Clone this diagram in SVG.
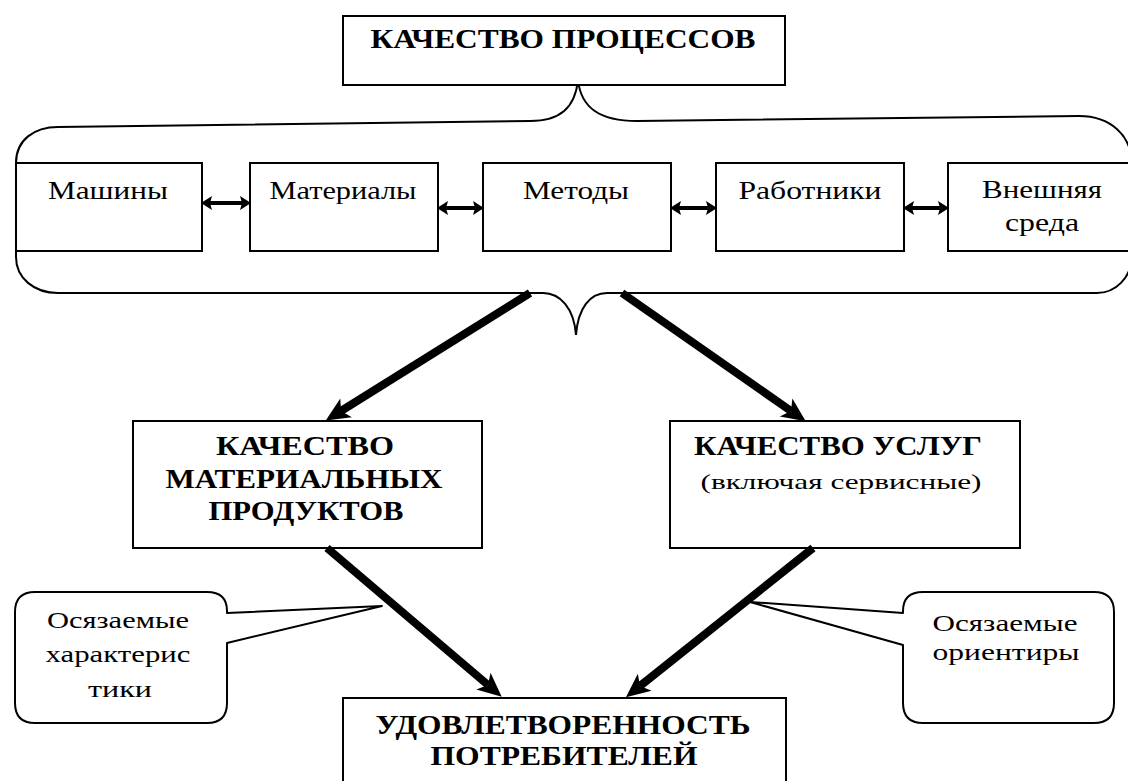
<svg xmlns="http://www.w3.org/2000/svg" width="1128" height="781" viewBox="0 0 1128 781">
  <style>
    .box { fill: #fff; stroke: #000; stroke-width: 2; }
    .outline { fill: none; stroke: #000; stroke-width: 2; }
    .callout { fill: #fff; stroke: #000; stroke-width: 2; stroke-linejoin: round; }
    .head { font-family: "Liberation Serif", "Times New Roman", serif; font-weight: bold; text-anchor: middle; fill: #000; }
    .lbl { font-family: "Liberation Serif", "Times New Roman", serif; text-anchor: middle; fill: #000; }
    .link { stroke: #000; stroke-width: 4; fill: none; marker-start: url(#dbl); marker-end: url(#dbl); }
    .flow { stroke: #000; stroke-width: 8; fill: none; marker-end: url(#big); }
  </style>
  <defs>
    <marker id="big" markerUnits="userSpaceOnUse" markerWidth="26" markerHeight="22" refX="6" refY="11" orient="auto" overflow="visible">
      <path d="M0,0 L24,11 L0,22 L6,11 Z" fill="#000"/>
    </marker>
    <marker id="dbl" markerUnits="userSpaceOnUse" markerWidth="12" markerHeight="14" refX="2" refY="7" orient="auto-start-reverse" overflow="visible">
      <path d="M0,0 L11,7 L0,14 L2,7 Z" fill="#000"/>
    </marker>
  </defs>

  <!-- bracket enclosing the five factors -->
  <path id="bracket" class="outline" d="M16,163 C16,140 34,127 58,127 L530,121 C560,121 575,108 578,80 C581,108 600,121 637,121 L1079,116 C1110,116 1132,135 1132,165 L1132,255 C1132,278 1115,293 1097,293 L607,293 C590,293 578,308 576,335 C574,308 560,293 543,293 L58,293 C34,293 16,278 16,257 Z"/>

  <g id="processes">
    <rect class="box" x="343" y="16" width="442" height="69"/>
    <text class="head" x="563" y="48" font-size="28" textLength="385" lengthAdjust="spacingAndGlyphs">КАЧЕСТВО ПРОЦЕССОВ</text>
  </g>

  <g id="machines">
    <rect class="box" x="16" y="163" width="186" height="88"/>
    <text class="lbl" x="108" y="199" font-size="26" textLength="120" lengthAdjust="spacingAndGlyphs">Машины</text>
  </g>
  <g id="materials">
    <rect class="box" x="250" y="163" width="188" height="88"/>
    <text class="lbl" x="343" y="199" font-size="26" textLength="147" lengthAdjust="spacingAndGlyphs">Материалы</text>
  </g>
  <g id="methods">
    <rect class="box" x="483" y="163" width="188" height="88"/>
    <text class="lbl" x="576" y="199" font-size="26" textLength="106" lengthAdjust="spacingAndGlyphs">Методы</text>
  </g>
  <g id="workers">
    <rect class="box" x="716" y="163" width="188" height="88"/>
    <text class="lbl" x="810" y="199" font-size="26" textLength="143" lengthAdjust="spacingAndGlyphs">Работники</text>
  </g>
  <g id="environment">
    <rect class="box" x="948" y="163" width="200" height="88"/>
    <text class="lbl" x="1042" y="198" font-size="26" textLength="120" lengthAdjust="spacingAndGlyphs">Внешняя</text>
    <text class="lbl" x="1042" y="231" font-size="26" textLength="74" lengthAdjust="spacingAndGlyphs">среда</text>
  </g>

  <g id="products">
    <rect class="box" x="133" y="421" width="349" height="127"/>
    <text class="head" x="305" y="455" font-size="28" textLength="178" lengthAdjust="spacingAndGlyphs">КАЧЕСТВО</text>
    <text class="head" x="304" y="488" font-size="28" textLength="277" lengthAdjust="spacingAndGlyphs">МАТЕРИАЛЬНЫХ</text>
    <text class="head" x="306" y="520" font-size="28" textLength="195" lengthAdjust="spacingAndGlyphs">ПРОДУКТОВ</text>
  </g>
  <g id="services">
    <rect class="box" x="670" y="421" width="350" height="127"/>
    <text class="head" x="838" y="455" font-size="28" textLength="288" lengthAdjust="spacingAndGlyphs">КАЧЕСТВО УСЛУГ</text>
    <text class="lbl" x="841" y="489" font-size="22" textLength="281" lengthAdjust="spacingAndGlyphs">(включая сервисные)</text>
  </g>

  <g id="satisfaction">
    <rect class="box" x="343" y="698" width="443" height="100"/>
    <text class="head" x="563" y="734" font-size="27" textLength="375" lengthAdjust="spacingAndGlyphs">УДОВЛЕТВОРЕННОСТЬ</text>
    <text class="head" x="564" y="765" font-size="27" textLength="267" lengthAdjust="spacingAndGlyphs">ПОТРЕБИТЕЛЕЙ</text>
  </g>

  <g id="connectors">
    <line class="link" x1="210" y1="203" x2="242" y2="203"/>
    <line class="link" x1="446" y1="208" x2="475" y2="208"/>
    <line class="link" x1="679" y1="208" x2="708" y2="208"/>
    <line class="link" x1="912" y1="208" x2="940" y2="208"/>
    <line class="flow" x1="530" y1="293" x2="341" y2="411"/>
    <line class="flow" x1="622" y1="293" x2="791" y2="411"/>
    <line class="flow" x1="327" y1="548" x2="488" y2="685"/>
    <line class="flow" x1="813" y1="548" x2="640" y2="686"/>
  </g>

  <g id="note-tangible-characteristics">
    <path class="callout" d="M35,592 L207,592 Q227,592 227,611 L227,613 L382,606 L227,643 L227,703 Q227,723 207,723 L35,723 Q15,723 15,703 L15,612 Q15,592 35,592 Z"/>
    <text class="lbl" x="118" y="628" font-size="23" textLength="142" lengthAdjust="spacingAndGlyphs">Осязаемые</text>
    <text class="lbl" x="118" y="662" font-size="23" textLength="145" lengthAdjust="spacingAndGlyphs">характерис</text>
    <text class="lbl" x="120" y="697" font-size="23" textLength="64" lengthAdjust="spacingAndGlyphs">тики</text>
  </g>
  <g id="note-tangible-guidelines">
    <path class="callout" d="M923,592 L1094,592 Q1114,592 1114,612 L1114,703 Q1114,723 1094,723 L923,723 Q903,723 903,703 L903,645 L750,602 L903,613 L903,611 Q903,592 923,592 Z"/>
    <text class="lbl" x="1005" y="631" font-size="23" textLength="145" lengthAdjust="spacingAndGlyphs">Осязаемые</text>
    <text class="lbl" x="1006" y="660" font-size="23" textLength="147" lengthAdjust="spacingAndGlyphs">ориентиры</text>
  </g>
</svg>
